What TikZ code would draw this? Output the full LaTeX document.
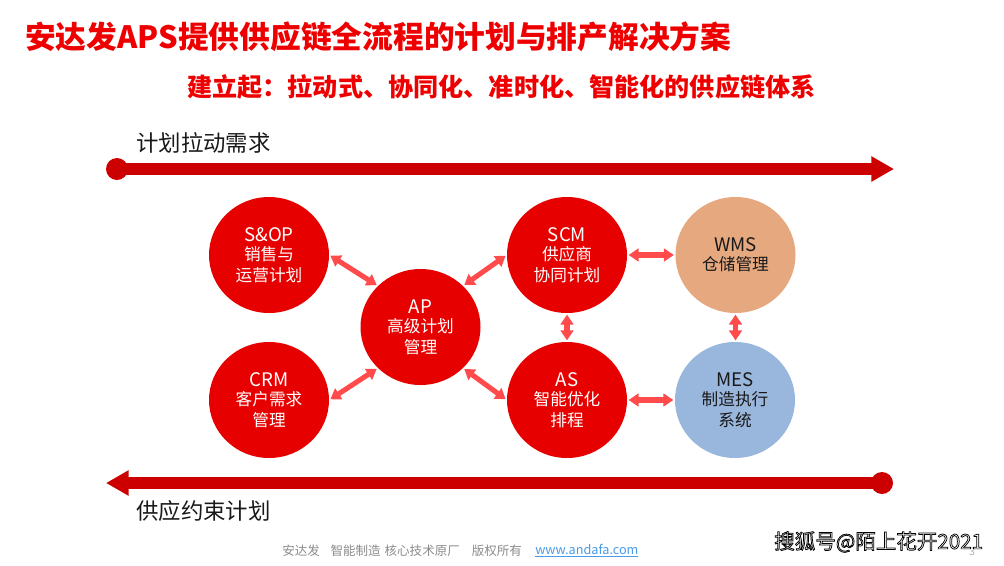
\documentclass[tikz,border=0pt]{standalone}
\usepackage{fontspec}
\setmainfont{Noto Sans CJK SC}
\usetikzlibrary{arrows.meta,shapes.geometric}
\definecolor{titlered}{HTML}{EE0000}
\definecolor{barred}{HTML}{CC0000}
\definecolor{circred}{HTML}{E60000}
\definecolor{linkred}{HTML}{FF4B4B}
\definecolor{wmsc}{HTML}{E6A97F}
\definecolor{mesc}{HTML}{99B6DD}
\definecolor{footg}{HTML}{8C8C8C}
\definecolor{linkb}{HTML}{4A9BE8}
\newcommand{\latn}[1]{{\fontsize{14}{15.5}\selectfont #1}}
\tikzset{
  x=0.75pt,y=-0.75pt,
  circ/.style={ellipse,inner sep=0pt,minimum width=90pt,minimum height=87pt,align=center,font=\fontsize{12.5}{15.5}\selectfont},
  redc/.style={circ,fill=circred,text=white},
  link/.style={draw=linkred,line width=3.8pt,{Triangle[length=7.5pt,width=9.5pt]}-{Triangle[length=7.5pt,width=9.5pt]},shorten <=1pt,shorten >=1pt},
  bar/.style={draw=barred,line width=8.4pt},
  dot/.style={circle,fill=barred,inner sep=0pt,minimum size=16.5pt},
  lbl/.style={text=black!90,font=\fontsize{16.8}{20}\selectfont,inner sep=0pt},
}
\begin{document}
\begin{tikzpicture}
\useasboundingbox (0,0) rectangle (1004,565);
\fill[white] (0,0) rectangle (1004,565);
\node[text=titlered,font=\fontsize{23.05}{26}\selectfont\bfseries,inner sep=0pt,anchor=west] (title) at (25,37) {安达发APS提供供应链全流程的计划与排产解决方案};
\node[text=titlered,font=\fontsize{18.85}{22}\selectfont\bfseries,inner sep=0pt,anchor=west] (sub) at (187,87) {建立起：拉动式、协同化、准时化、智能化的供应链体系};
\node[lbl,anchor=west] (pull) at (136,143) {计划拉动需求};
\node[lbl,anchor=west] (push) at (136,511) {供应约束计划};
% bars
\node[dot] (d1) at (117,169) {};
\node[dot] (d2) at (882,483) {};
\coordinate (t1) at (894,169);
\coordinate (t2) at (106,483);
\draw[bar,-{Triangle[length=17pt,width=18pt]}] (d1.center) -- (t1);
\draw[bar,-{Triangle[length=17pt,width=18pt]}] (d2.center) -- (t2);
% circles
\node[redc] (sop) at (269,255) {\latn{S\&OP}\\[-1pt]销售与\\运营计划};
\node[redc] (crm) at (269,400) {\latn{CRM}\\[-1pt]客户需求\\管理};
\node[redc] (ap) at (420.5,327) {\latn{AP}\\[-1pt]高级计划\\管理};
\node[redc] (scm) at (567,255) {\latn{SCM}\\[-1pt]供应商\\协同计划};
\node[redc] (as) at (567,400) {\latn{AS}\\[-1pt]智能优化\\排程};
\node[circ,fill=wmsc,text=black!90] (wms) at (735.5,255) {\latn{WMS}\\[-1pt]仓储管理};
\node[circ,fill=mesc,text=black!90] (mes) at (735,400) {\latn{MES}\\[-1pt]制造执行\\系统};
% links
\draw[link] (sop.0) -- (ap.136);
\draw[link] (crm.0) -- (ap.224);
\draw[link] (scm.180) -- (ap.44);
\draw[link] (as.180) -- (ap.316);
\draw[link] (scm.east) -- (wms.west);
\draw[link] (as.east) -- (mes.west);
\draw[link] (scm.south) -- (as.north);
\draw[link] (wms.south) -- (wms.south |- mes.north);
% footer
\node[text=footg,font=\fontsize{9.4}{11}\selectfont,inner sep=0pt,anchor=west] (foot) at (282,551) {安达发\hspace{8pt}智能制造\hspace{3pt}核心技术原厂\hspace{9pt}版权所有};
\node[text=linkb,font=\fontsize{9.5}{11}\selectfont,inner sep=0pt,anchor=west] (url) at (535,551) {\underline{www.andafa.com}};
\node[text=footg!70,font=\fontsize{8}{10}\selectfont,inner sep=0pt] (page) at (972,552) {3};
\node[text=white,font=\fontsize{15.4}{17}\selectfont,inner sep=0pt,anchor=west] (mark) at (774,542) {\special{pdf:code q 2 Tr 0.55 w 0 0 0 RG 1 1 1 rg}搜狐号@陌上花开2021\special{pdf:code Q}};
\end{tikzpicture}
\end{document}
